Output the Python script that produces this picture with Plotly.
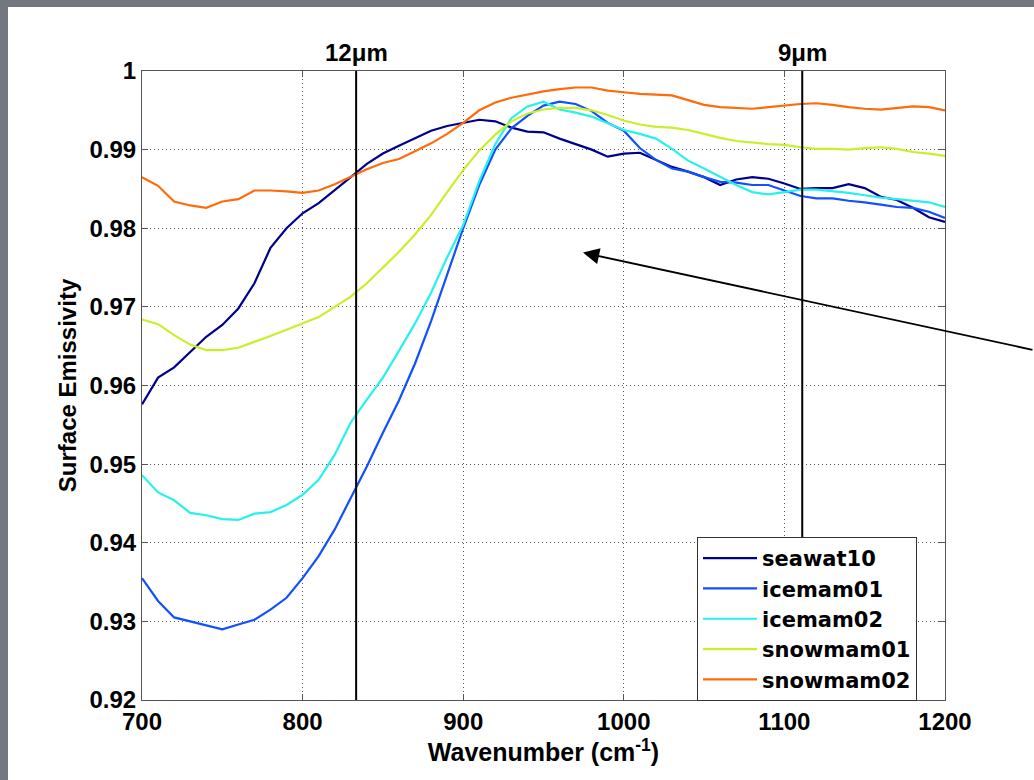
import plotly.graph_objects as go

# ---------------- data ----------------
wavenumber = list(range(700, 1201, 10))

seawat10 = [0.9576, 0.9610, 0.9623, 0.9643, 0.9662, 0.9677, 0.9698, 0.9730, 0.9775, 0.9800,
            0.9819, 0.9832, 0.9848, 0.9865, 0.9882, 0.9895, 0.9905, 0.9915, 0.9924, 0.9930,
            0.9934, 0.9938, 0.9936, 0.9928, 0.9923, 0.9922, 0.9914, 0.9907, 0.9900, 0.9891,
            0.9895, 0.9896, 0.9887, 0.9878, 0.9872, 0.9865, 0.9855, 0.9862, 0.9865, 0.9863,
            0.9857, 0.9850, 0.9851, 0.9851, 0.9856, 0.9851, 0.9840, 0.9836, 0.9826, 0.9814,
            0.9808]

icemam01 = [0.9355, 0.9326, 0.9305, 0.9300, 0.9295, 0.9290, 0.9296, 0.9302, 0.9315, 0.9330,
            0.9355, 0.9383, 0.9417, 0.9457, 0.9497, 0.9540, 0.9581, 0.9628, 0.9682, 0.9741,
            0.9800, 0.9855, 0.9900, 0.9927, 0.9943, 0.9956, 0.9961, 0.9958, 0.9949, 0.9934,
            0.9924, 0.9902, 0.9887, 0.9876, 0.9872, 0.9865, 0.9859, 0.9858, 0.9855, 0.9855,
            0.9848, 0.9841, 0.9838, 0.9838, 0.9835, 0.9833, 0.9830, 0.9827, 0.9826, 0.9821,
            0.9813]

icemam02 = [0.9486, 0.9464, 0.9454, 0.9438, 0.9435, 0.9430, 0.9429, 0.9437, 0.9439, 0.9448,
            0.9461, 0.9480, 0.9512, 0.9553, 0.9582, 0.9610, 0.9644, 0.9679, 0.9718, 0.9763,
            0.9804, 0.9860, 0.9907, 0.9940, 0.9955, 0.9961, 0.9951, 0.9947, 0.9942, 0.9933,
            0.9925, 0.9920, 0.9914, 0.9901, 0.9886, 0.9876, 0.9865, 0.9855, 0.9846, 0.9843,
            0.9846, 0.9849, 0.9849, 0.9847, 0.9845, 0.9842, 0.9839, 0.9837, 0.9835, 0.9833,
            0.9827]

snowmam01 = [0.9684, 0.9678, 0.9664, 0.9652, 0.9645, 0.9645, 0.9648, 0.9655, 0.9663, 0.9671,
             0.9679, 0.9687, 0.9700, 0.9713, 0.9730, 0.9750, 0.9770, 0.9792, 0.9817, 0.9846,
             0.9874, 0.9899, 0.9919, 0.9936, 0.9946, 0.9951, 0.9953, 0.9953, 0.9950, 0.9944,
             0.9937, 0.9932, 0.9929, 0.9928, 0.9925, 0.9920, 0.9915, 0.9911, 0.9909, 0.9907,
             0.9906, 0.9903, 0.9901, 0.9901, 0.9900, 0.9902, 0.9903, 0.9901, 0.9897, 0.9895,
             0.9892]

snowmam02 = [0.9865, 0.9854, 0.9834, 0.9829, 0.9826, 0.9834, 0.9837, 0.9848, 0.9848, 0.9847,
             0.9845, 0.9848, 0.9856, 0.9866, 0.9875, 0.9883, 0.9888, 0.9898, 0.9908, 0.9920,
             0.9934, 0.9950, 0.9960, 0.9966, 0.9970, 0.9974, 0.9977, 0.9979, 0.9979, 0.9975,
             0.9973, 0.9971, 0.9970, 0.9969, 0.9963, 0.9957, 0.9954, 0.9953, 0.9952, 0.9954,
             0.9956, 0.9958, 0.9959, 0.9957, 0.9954, 0.9952, 0.9951, 0.9953, 0.9955, 0.9954,
             0.9950]

series_names = ["seawat10", "icemam01", "icemam02", "snowmam01", "snowmam02"]
series_values = [seawat10, icemam01, icemam02, snowmam01, snowmam02]
series_colors = ["#00008c", "#1050ff", "#28f0ec", "#c8f028", "#ff6a0a"]

marker_um = [12, 9]
marker_labels = ["12\u03bcm", "9\u03bcm"]

y_ticks = [0.92, 0.93, 0.94, 0.95, 0.96, 0.97, 0.98, 0.99, 1.0]
y_ticklabels = ["0.92", "0.93", "0.94", "0.95", "0.96", "0.97", "0.98", "0.99", "1"]
x_ticks = [700, 800, 900, 1000, 1100, 1200]

# arrow (head / tail in data coords)
arrow_head = (974.6, 0.9769)
arrow_tail = (1255.4, 0.9645)

FONT = "Liberation Sans, Arial, sans-serif"
LEGFONT = "DejaVu Sans, sans-serif"

fig = go.Figure()
for name, vals, col in zip(series_names, series_values, series_colors):
    fig.add_trace(go.Scatter(x=wavenumber, y=vals, mode="lines", name=name,
                             line=dict(color=col, width=2.2)))

# white slide panel over gray background
L, R, T, B = 142, 89, 71, 80
W, H = 1034, 780
pw, ph = W - L - R, H - T - B


def px2paper(px, py):
    return (px - L) / pw, (H - B - py) / ph


x0, y1 = px2paper(8, 7)
x1, y0 = px2paper(1034, 780)
fig.add_shape(type="rect", xref="paper", yref="paper", x0=x0, x1=x1, y0=y0, y1=y1,
              fillcolor="white", line=dict(width=0), layer="below")

for um, lab in zip(marker_um, marker_labels):
    wn = 1e4 / um
    fig.add_shape(type="line", xref="x", yref="paper", x0=wn, x1=wn, y0=0, y1=1,
                  line=dict(color="black", width=2))
    fig.add_annotation(x=wn, y=1, xref="x", yref="paper", yanchor="bottom",
                       text="<b>" + lab + "</b>", showarrow=False, yshift=3,
                       font=dict(family=FONT, size=24, color="black"))

fig.add_annotation(x=arrow_head[0], y=arrow_head[1], ax=arrow_tail[0], ay=arrow_tail[1],
                   xref="x", yref="y", axref="x", ayref="y", text="",
                   showarrow=True, arrowhead=2, arrowsize=1.8, arrowwidth=1.8,
                   arrowcolor="black")

fig.update_layout(
    width=W, height=H,
    margin=dict(l=L, r=R, t=T, b=B, pad=0),
    paper_bgcolor="#737880",
    plot_bgcolor="white",
    font=dict(family=FONT, color="black"),
    showlegend=True,
    legend=dict(x=(697 - L) / pw, y=(H - B - 537) / ph, xanchor="left", yanchor="top",
                bgcolor="white", bordercolor="#333333", borderwidth=1,
                font=dict(family=LEGFONT, size=21, color="black", weight="bold"),
                itemwidth=54, tracegroupgap=0),
)

axis_common = dict(showline=True, linecolor="#555555", linewidth=1, mirror="ticks",
                   ticks="inside", ticklen=6, tickcolor="#555555",
                   showgrid=True, gridcolor="#555555", griddash="1px,3px", gridwidth=1,
                   zeroline=False,
                   tickfont=dict(family=FONT, size=24, color="black", weight="bold"))

fig.update_xaxes(range=[700, 1200], tickvals=x_ticks, **axis_common,
                 title=dict(text="<b>Wavenumber (cm<sup>-1</sup>)</b>",
                            font=dict(family=FONT, size=25), standoff=8))
fig.update_yaxes(range=[0.92, 1.0], tickvals=y_ticks, ticktext=y_ticklabels, **axis_common,
                 title=dict(text="<b>Surface Emissivity</b>",
                            font=dict(family=FONT, size=24), standoff=6))

fig.write_html("out.html")
